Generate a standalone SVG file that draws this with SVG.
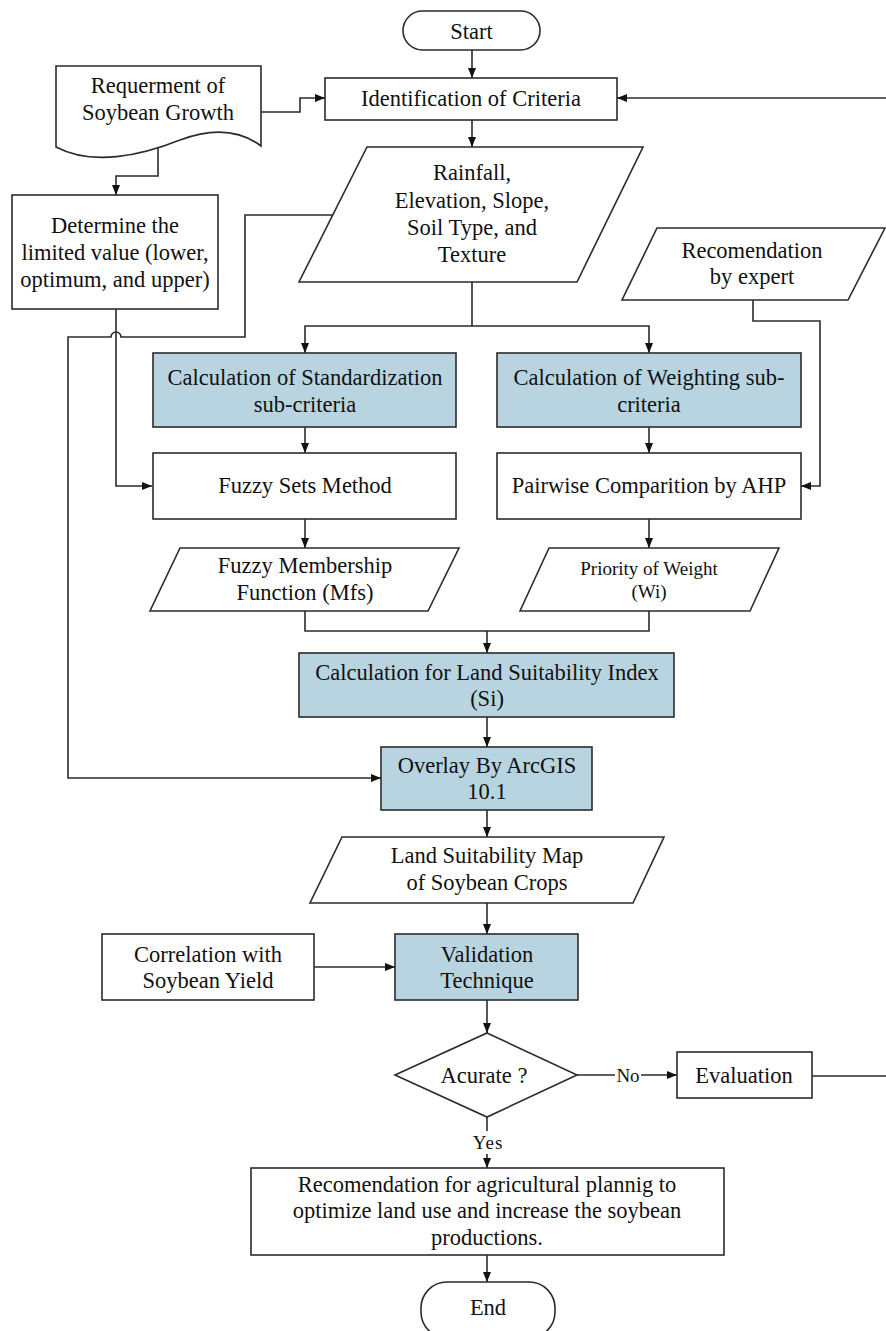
<svg xmlns="http://www.w3.org/2000/svg" width="886" height="1331" viewBox="0 0 886 1331" font-family="'Liberation Serif', 'DejaVu Serif', serif">
<style>
.s{fill:#fff;stroke:#2b2b2b;stroke-width:1.6}
.b{fill:#b8d4e0;stroke:#2b2b2b;stroke-width:1.6}
text{font-family:'Liberation Serif','DejaVu Serif',serif}
.t{font-size:22.5px;fill:#111;text-anchor:middle}
.sm{font-size:19px}
.c{fill:none;stroke:#2b2b2b;stroke-width:1.6}
</style>
<defs>
<marker id="a" markerUnits="userSpaceOnUse" markerWidth="10" markerHeight="10" viewBox="0 0 10 10" refX="10" refY="5" orient="auto">
<path d="M0,1 L10,5 L0,9 Z" fill="#111"/>
</marker>
</defs>
<rect width="886" height="1331" fill="#fff"/>
<g id="connectors">
<path class="c" d="M472,50 V78" marker-end="url(#a)"/>
<path class="c" d="M261,112 H300 V98 H325" marker-end="url(#a)"/>
<path class="c" d="M886,98 H617" marker-end="url(#a)"/>
<path class="c" d="M472,120 V147" marker-end="url(#a)"/>
<path class="c" d="M158,148 V176 H116 V195" marker-end="url(#a)"/>
<path class="c" d="M116,309 V486 H152" marker-end="url(#a)"/>
<path class="c" d="M333,215 H245 V337 H121 A5,5 0 0 0 111,337 H68 V778 H381" marker-end="url(#a)"/>
<path class="c" d="M472,282 V326"/>
<path class="c" d="M472,326 H305 V353" marker-end="url(#a)"/>
<path class="c" d="M472,326 H649 V353" marker-end="url(#a)"/>
<path class="c" d="M305,427 V453" marker-end="url(#a)"/>
<path class="c" d="M649,427 V453" marker-end="url(#a)"/>
<path class="c" d="M753,300 V321 H820 V486 H801" marker-end="url(#a)"/>
<path class="c" d="M305,519 V548" marker-end="url(#a)"/>
<path class="c" d="M649,519 V548" marker-end="url(#a)"/>
<path class="c" d="M305,611 V631 H649 V611"/>
<path class="c" d="M487,631 V653" marker-end="url(#a)"/>
<path class="c" d="M487,717 V747" marker-end="url(#a)"/>
<path class="c" d="M487,810 V837" marker-end="url(#a)"/>
<path class="c" d="M487,903 V934" marker-end="url(#a)"/>
<path class="c" d="M314,967 H395" marker-end="url(#a)"/>
<path class="c" d="M487,1000 V1033" marker-end="url(#a)"/>
<path class="c" d="M577,1075 H615"/>
<path class="c" d="M641,1075 H677" marker-end="url(#a)"/>
<text class="t sm" x="628" y="1082">No</text>
<path class="c" d="M812,1076 H886"/>
<path class="c" d="M487,1117 V1131"/>
<text class="t sm" x="488" y="1149" letter-spacing="1">Yes</text>
<path class="c" d="M487,1154 V1168" marker-end="url(#a)"/>
<path class="c" d="M487,1255 V1282" marker-end="url(#a)"/>
</g>
<g id="start">
<rect class="s" x="403" y="11" width="137" height="39" rx="19.5"/>
<text class="t" x="471.5" y="39">Start</text>
</g>
<g id="requirement">
<path class="s" d="M56,66 H261 V146 C240,130 212,128 180,140 C140,156 92,166 56,147 Z"/>
<text class="t" x="158" y="93">Requerment of</text>
<text class="t" x="158" y="120">Soybean Growth</text>
</g>
<g id="identification">
<rect class="s" x="325" y="78" width="292" height="42"/>
<text class="t" x="471" y="106">Identification of Criteria</text>
</g>
<g id="criteria">
<path class="s" d="M367,147 H643 L577,282 H299 Z"/>
<text class="t" x="472" y="180">Rainfall,</text>
<text class="t" x="472" y="208">Elevation, Slope,</text>
<text class="t" x="472" y="235">Soil Type, and</text>
<text class="t" x="472" y="262">Texture</text>
</g>
<g id="determine">
<rect class="s" x="12" y="195" width="206" height="114"/>
<text class="t" x="115" y="233">Determine the</text>
<text class="t" x="115" y="260">limited value (lower,</text>
<text class="t" x="115" y="287">optimum, and upper)</text>
</g>
<g id="expert">
<path class="s" d="M657,228 H885 L848,300 H622 Z"/>
<text class="t" x="752" y="258">Recomendation</text>
<text class="t" x="752" y="284">by expert</text>
</g>
<g id="standardization">
<rect class="b" x="153" y="353" width="303" height="74"/>
<text class="t" x="305" y="385">Calculation of Standardization</text>
<text class="t" x="305" y="412">sub-criteria</text>
</g>
<g id="weighting">
<rect class="b" x="497" y="353" width="304" height="74"/>
<text class="t" x="649" y="385">Calculation of Weighting sub-</text>
<text class="t" x="649" y="412">criteria</text>
</g>
<g id="fuzzy">
<rect class="s" x="153" y="453" width="303" height="66"/>
<text class="t" x="305" y="493">Fuzzy Sets Method</text>
</g>
<g id="pairwise">
<rect class="s" x="497" y="453" width="304" height="66"/>
<text class="t" x="649" y="493">Pairwise Comparition by AHP</text>
</g>
<g id="membership">
<path class="s" d="M180,548 H459 L428,611 H150 Z"/>
<text class="t" x="305" y="573">Fuzzy Membership</text>
<text class="t" x="305" y="600">Function (Mfs)</text>
</g>
<g id="priority">
<path class="s" d="M549,548 H779 L750,611 H520 Z"/>
<text class="t sm" x="649" y="575">Priority of Weight</text>
<text class="t sm" x="649" y="598">(Wi)</text>
</g>
<g id="lsi">
<rect class="b" x="299" y="653" width="375" height="64"/>
<text class="t" x="487" y="680">Calculation for Land Suitability Index</text>
<text class="t" x="487" y="706">(Si)</text>
</g>
<g id="overlay">
<rect class="b" x="381" y="747" width="211" height="63"/>
<text class="t" x="487" y="773">Overlay By ArcGIS</text>
<text class="t" x="487" y="799">10.1</text>
</g>
<g id="map">
<path class="s" d="M342,837 H664 L633,903 H310 Z"/>
<text class="t" x="487" y="863">Land Suitability Map</text>
<text class="t" x="487" y="890">of Soybean Crops</text>
</g>
<g id="correlation">
<rect class="s" x="102" y="934" width="212" height="66"/>
<text class="t" x="208" y="962">Correlation with</text>
<text class="t" x="208" y="988">Soybean Yield</text>
</g>
<g id="validation">
<rect class="b" x="395" y="934" width="183" height="66"/>
<text class="t" x="487" y="962">Validation</text>
<text class="t" x="487" y="988">Technique</text>
</g>
<g id="accurate">
<path class="s" d="M487,1033 L577,1075 L487,1117 L395,1075 Z"/>
<text class="t" x="484" y="1083">Acurate ?</text>
</g>
<g id="evaluation">
<rect class="s" x="677" y="1052" width="135" height="46"/>
<text class="t" x="744" y="1083">Evaluation</text>
</g>
<g id="recommendation">
<rect class="s" x="251" y="1168" width="473" height="87"/>
<text class="t" x="487" y="1192">Recomendation for agricultural plannig to</text>
<text class="t" x="487" y="1218">optimize land use and increase the soybean</text>
<text class="t" x="487" y="1245">productions.</text>
</g>
<g id="end">
<rect class="s" x="421" y="1282" width="134" height="56" rx="26"/>
<text class="t" x="488" y="1315">End</text>
</g>
</svg>
